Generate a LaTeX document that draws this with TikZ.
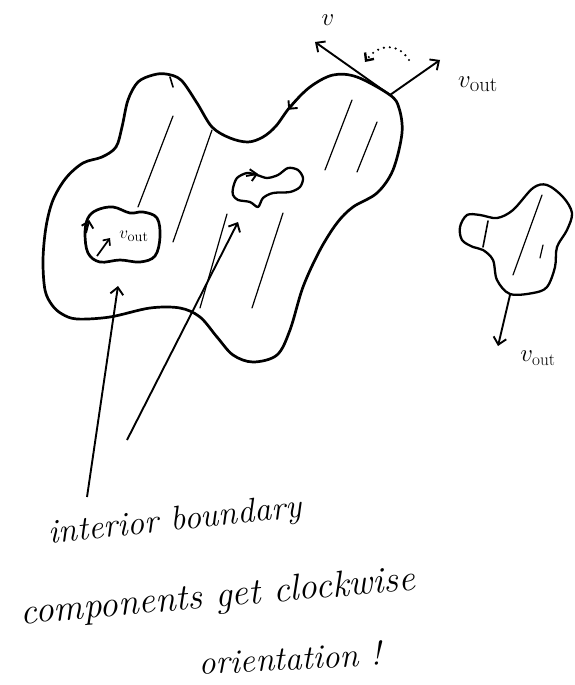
\documentclass[tikz,border=0pt]{standalone}
\usetikzlibrary{arrows.meta,positioning}

\begin{document}
\begin{tikzpicture}[
  x=1pt, y=-1pt,
  bdry/.style={line width=2.7pt, line join=round},
  hatch/.style={line width=1.2pt, line cap=round},
  vec/.style={line width=1.9pt, -{Straight Barb[length=7pt,width=13pt]}},
  tick/.style={line width=1.9pt, -{Straight Barb[length=6pt,width=12pt]}, shorten >=-1pt},
  hand/.style={font=\fontsize{34}{38}\selectfont\itshape},
  lbl/.style={font=\fontsize{32}{34}\selectfont}
]
\useasboundingbox (0,0) rectangle (575,685);

\draw[bdry] plot[smooth cycle, tension=0.55] coordinates {
  (153,75) (138,82) (128,100) (122,127) (116,147) (102,157) (83,163)
  (66,178) (53,200) (46,227) (43,260) (45,290) (52,305) (62,314) (77,319)
  (110,317) (150,308) (180,308) (200,317) (217,337) (233,355) (253,362)
  (277,355) (290,330) (303,287) (320,250) (337,223) (353,207) (377,193)
  (393,170) (402,133) (399,108) (390,95) (357,77) (333,75) (310,87)
  (290,107) (276,126) (263,137) (248,142) (230,138) (212,127) (197,103)
  (181,80) (166,74)};

\draw[bdry] plot[smooth cycle, tension=0.6] coordinates {
  (97,210) (113,207) (130,213) (143,212) (157,218) (160,237) (155,256)
  (140,262) (120,260) (100,262) (88,253) (85,233) (88,218)};

\draw[bdry, line width=2.3pt] plot[smooth cycle, tension=0.5] coordinates {
  (233,188) (237,178) (247,173) (257,175) (267,178) (278,175) (288,168)
  (298,170) (303,178) (300,187) (290,192) (273,193) (263,198) (258,207)
  (250,202) (238,200) (233,195)};

\draw[bdry, line width=2.3pt] plot[smooth cycle, tension=0.55] coordinates {
  (467,215) (480,215) (497,218) (513,210) (533,188) (547,185) (563,197)
  (572,213) (567,230) (557,247) (555,267) (547,287) (533,293) (510,294)
  (497,280) (493,260) (483,250) (473,247) (462,240) (460,227)};
\draw[hatch, line width=1.6pt] (488,221) -- (483,247);

\draw[hatch] (173,116) -- (138,207);
\draw[hatch] (212,130) -- (173,242);
\draw[hatch] (227,214) -- (200,308);
\draw[hatch] (283,213) -- (252,308);
\draw[hatch] (352,100) -- (325,170);
\draw[hatch] (377,122) -- (357,172);
\draw[hatch] (542,195) -- (513,275);
\draw[hatch] (543,245) -- (540,258);
\draw[hatch, line width=1.6pt] (170,77) -- (173,87);

\draw[tick] (299,97) -- (289,109);
\draw[tick] (246,176) -- (257,174);
\draw[tick] (86,233) -- (89,221);

\coordinate (c1) at (390,95);
\coordinate (vt) at (315,42);
\coordinate (vo) at (440,60);
\draw[vec] (c1) -- (vt);
\draw[vec] (c1) -- (vo);
\node[lbl, font=\fontsize{28}{30}\selectfont] (lv) at (328,20) {$v$};
\node[lbl] (lvo) at (478,84) {$v_{\mathrm{out}}$};
\draw[line width=2.4pt, line cap=round, dash pattern=on 0pt off 6pt,
  -{Straight Barb[length=6pt,width=11pt]}]
  (409,60) .. controls (398,42) and (378,44) .. (365,62);

\coordinate (h1) at (97,256);
\coordinate (h2) at (110,238);
\draw[vec, line width=1.7pt, -{Straight Barb[length=5pt,width=9pt]}] (h1) -- (h2);
\node[font=\fontsize{19}{20}\selectfont] (lvh) at (134,236) {$v_{\mathrm{out}}$};

\coordinate (r1) at (510,295);
\coordinate (r2) at (498,346);
\draw[vec] (r1) -- (r2);
\node[lbl, font=\fontsize{27}{29}\selectfont] (lvr) at (538,358) {$v_{\mathrm{out}}$};

\coordinate (a1) at (87,497);
\coordinate (b1) at (118,286);
\coordinate (a2) at (127,440);
\coordinate (b2) at (238,222);
\draw[vec] (a1) -- (b1);
\draw[vec] (a2) -- (b2);

\node[hand, rotate=6] (t1) at (175,522) {interior boundary};
\node[hand, rotate=5, font=\fontsize{37}{40}\selectfont\itshape] (t2) at (218,598) {components get clockwise};
\node[hand, rotate=3] (t3) at (290,658) {orientation !};
\end{tikzpicture}
\end{document}
